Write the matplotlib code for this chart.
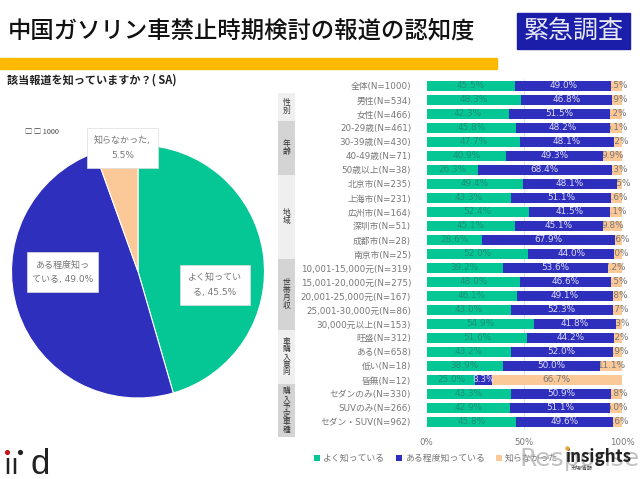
import matplotlib
matplotlib.use('Agg')
import matplotlib.pyplot as plt
from matplotlib.patches import Rectangle

plt.rcParams['font.family'] = ['Noto Sans CJK JP', 'DejaVu Sans']
LATIN_FIRST = ['DejaVu Sans', 'Noto Sans CJK JP']

categories = ['全体(N=1000)', '男性(N=534)', '女性(N=466)', '20-29歳(N=461)', '30-39歳(N=430)',
              '40-49歳(N=71)', '50歳以上(N=38)', '北京市(N=235)', '上海市(N=231)', '広州市(N=164)',
              '深圳市(N=51)', '成都市(N=28)', '南京市(N=25)', '10,001-15,000元(N=319)',
              '15,001-20,000元(N=275)', '20,001-25,000元(N=167)', '25,001-30,000元(N=86)',
              '30,000元以上(N=153)', '旺盛(N=312)', 'ある(N=658)', '低い(N=18)', '皆無(N=12)',
              'セダンのみ(N=330)', 'SUVのみ(N=266)', 'セダン・SUV(N=962)']
well = [45.5, 48.3, 42.3, 45.8, 47.7, 40.9, 26.3, 49.4, 43.3, 52.4, 45.1, 28.6, 52.0,
        39.2, 48.0, 46.1, 43.0, 54.9, 51.6, 43.2, 38.9, 25.0, 43.3, 42.9, 45.8]
some = [49.0, 46.8, 51.5, 48.2, 48.1, 49.3, 68.4, 48.1, 51.1, 41.5, 45.1, 67.9, 44.0,
        53.6, 46.6, 49.1, 52.3, 41.8, 44.2, 52.0, 50.0, 8.3, 50.9, 51.1, 49.6]
unaware = [5.5, 4.9, 6.2, 6.1, 4.2, 9.9, 5.3, 2.5, 5.6, 6.1, 9.8, 3.6, 4.0,
           7.2, 5.5, 4.8, 4.7, 3.3, 4.2, 4.9, 11.1, 66.7, 5.8, 6.0, 4.6]
groups = ['性\n別', '年\n齢', '地\n域', '世\n帯\n月\n収', '車\n購\n入\n意\n向', '購\n入\n予\n定\n車\n種']
group_edges = [93, 121, 175, 259, 330, 384, 437]
pie_labels = ['よく知ってい\nる, 45.5%', 'ある程度知っ\nている, 49.0%', '知らなかった,\n5.5%']
pie_values = [45.5, 49.0, 5.5]
legend_labels = ['よく知っている', 'ある程度知っている', '知らなかった']

GREEN = '#04c795'
BLUE = '#2f2fbd'
PEACH = '#fbc898'
W, H = 640, 479


def ax_px(x0, y0, x1, y1):
    # pixel box, y from the top
    return fig.add_axes([x0 / W, 1 - y1 / H, (x1 - x0) / W, (y1 - y0) / H])


fig = plt.figure(figsize=(W / 100, H / 100), dpi=100)

# page layer in pixels, on top of the chart axes
bg = ax_px(0, 0, W, H)
bg.set_xlim(0, W)
bg.set_ylim(H, 0)
bg.axis('off')
bg.set_zorder(5)
bg.text(8, 31, '中国ガソリン車禁止時期検討の報道の認知度', fontsize=16.8, color='#111111', va='center', weight='medium')
bg.add_patch(Rectangle((0, 58), 497, 11, color='#fdb900'))
bg.add_patch(Rectangle((517, 13), 113, 36, color='#1a1ea8'))
bg.text(573.5, 31, '緊急調査', fontsize=18, color='#e8e8f4', ha='center', va='center')
bg.text(7, 80, '該当報道を知っていますか？( SA)', fontsize=8, color='#222222', va='center', weight='bold')
bg.text(25, 132, '□ □ 1000', fontsize=5.2, color='#444444', va='center')

# group column next to the bars
for i, name in enumerate(groups):
    y0, y1 = group_edges[i], group_edges[i + 1]
    bg.add_patch(Rectangle((278, y0), 17, y1 - y0, color='#d4d4d4' if i % 2 else '#efefef', lw=0))
    bg.text(286.5, (y0 + y1) / 2, name, fontsize=5.6, color='#333333', ha='center', va='center', linespacing=0.95)

# pie
pie_ax = ax_px(11, 145, 265, 398)
pie_ax.pie(pie_values, colors=[GREEN, BLUE, PEACH], startangle=90, counterclock=False, radius=1,
           wedgeprops={'edgecolor': 'white', 'linewidth': 0.8})
pie_ax.set_xlim(-1, 1)
pie_ax.set_ylim(-1, 1)
for text, (x0, y0, x1, y1) in zip(pie_labels, [(180, 265, 250, 305), (27, 252, 98, 292), (87, 128, 158, 168)]):
    bg.add_patch(Rectangle((x0, y0), x1 - x0, y1 - y0, fc='white', ec='#dddddd', lw=0.5, zorder=4))
    bg.text((x0 + x1) / 2, (y0 + y1) / 2, text, fontsize=6.5, color='#777777', ha='center', va='center',
            linespacing=1.7, zorder=5, family=LATIN_FIRST)

# stacked bars
row_top = 79
row_h = 14
ax = ax_px(426.5, row_top, 622, row_top + 25 * row_h)
ypos = list(range(len(categories)))
left2 = [a + b for a, b in zip(well, some)]
ax.barh(ypos, unaware, left=left2, height=0.72, color=PEACH, zorder=1)
for y, v, l in zip(ypos, unaware, left2):
    ax.text(l + v / 2, y, f'{v:.1f}%', fontsize=6.4, color='#777777', ha='center', va='center', zorder=2,
            family=LATIN_FIRST)
ax.barh(ypos, well, height=0.72, color=GREEN, zorder=3)
ax.barh(ypos, some, left=well, height=0.72, color=BLUE, zorder=3)
for y, a, b in zip(ypos, well, some):
    ax.text(a / 2, y, f'{a:.1f}%', fontsize=6.4, color='#1f8f78', ha='center', va='center', zorder=4,
            family=LATIN_FIRST)
    ax.text(a + b / 2, y, f'{b:.1f}%', fontsize=6.4, color='#dcdcf4', ha='center', va='center', zorder=4,
            family=LATIN_FIRST)
ax.set_xlim(0, 100)
ax.set_ylim(24.5, -0.5)
ax.set_yticks(ypos)
ax.set_yticklabels(categories, fontsize=6.3, color='#777777', family=LATIN_FIRST)
ax.set_xticks([0, 50, 100])
ax.set_xticklabels(['0%', '50%', '100%'], fontsize=6.2, color='#777777', family=LATIN_FIRST)
ax.tick_params(length=0)
ax.tick_params(axis='y', pad=11)
ax.tick_params(axis='x', pad=6.5)
for s in ax.spines.values():
    s.set_visible(False)
ax.axvline(50, color='#dddddd', lw=0.6, zorder=0)

# legend row
for x, c, t in zip([314, 396, 496], [GREEN, BLUE, PEACH], legend_labels):
    bg.add_patch(Rectangle((x, 455), 6, 6, color=c, lw=0))
    bg.text(x + 9, 458, t, fontsize=6.4, color='#777777', va='center')

# logos
bg.text(3, 474, 'ıı', fontsize=21, color='#222222', va='baseline', family=['Liberation Sans'])
bg.text(30, 474, 'd', fontsize=25, color='#222222', va='baseline', family=['Liberation Sans'])
bg.scatter([7], [452], s=14, color='#c4161c', lw=0, zorder=5)
bg.scatter([20], [452], s=14, color='#222222', lw=0, zorder=5)
bg.text(520, 459, 'Response', fontsize=18, color='#aaaaaa', ha='left', va='center', alpha=0.7, zorder=6,
        family=LATIN_FIRST)
bg.text(566, 457, 'insights', fontsize=12.2, color='#222222', ha='left', va='center', weight='bold', zorder=7)
bg.scatter([567], [448], s=10, color='#e8a33a', lw=0, zorder=7)
bg.text(582, 468, '市場情報', fontsize=4, color='#444444', ha='center', va='center', zorder=7)

fig.savefig('out.png', dpi=100)
